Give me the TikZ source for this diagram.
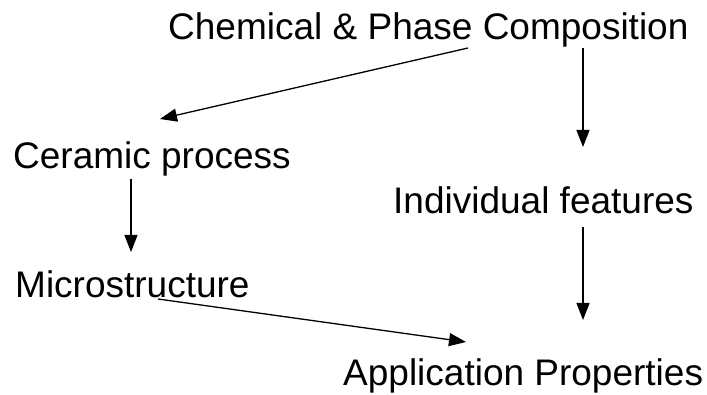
\documentclass[tikz,border=0pt]{standalone}
\usepackage{fontspec}
\setmainfont{Liberation Sans}
\usetikzlibrary{arrows.meta}

\tikzset{
 lbl/.style={inner sep=0pt,anchor=base west,font=\fontsize{37}{44}\selectfont},
 arr/.style={-{Triangle[length=17pt,width=13pt]},line width=1.3pt}
}

\begin{document}
\begin{tikzpicture}[x=1pt,y=-1pt]
 \useasboundingbox (0,0) rectangle (707,395);
 % labels
 \node[lbl] (chem) at (168,40) {Chemical \& Phase Composition};
 \node[lbl] (cer) at (13,169) {Ceramic process};
 \node[lbl] (ind) at (393,214) {Individual features};
 \node[lbl] (micro) at (15,298) {Microstructure};
 \node[lbl] (app) at (343,385) {Application Properties};
 % arrows
 \draw[arr] ([shift={(300pt,-8pt)}]chem.base west) -- ([shift={(147pt,50pt)}]cer.base west);
 \draw[arr] ([shift={(415pt,-8pt)}]chem.base west) -- ([shift={(190pt,67pt)}]ind.base west);
 \draw[arr] ([shift={(118pt,-10pt)}]cer.base west) -- ([shift={(116pt,46pt)}]micro.base west);
 \draw[arr] ([shift={(190pt,-13pt)}]ind.base west) -- ([shift={(240pt,65pt)}]app.base west);
 \draw[arr] ([shift={(143pt,-1pt)}]micro.base west) -- ([shift={(123pt,43pt)}]app.base west);
\end{tikzpicture}
\end{document}
